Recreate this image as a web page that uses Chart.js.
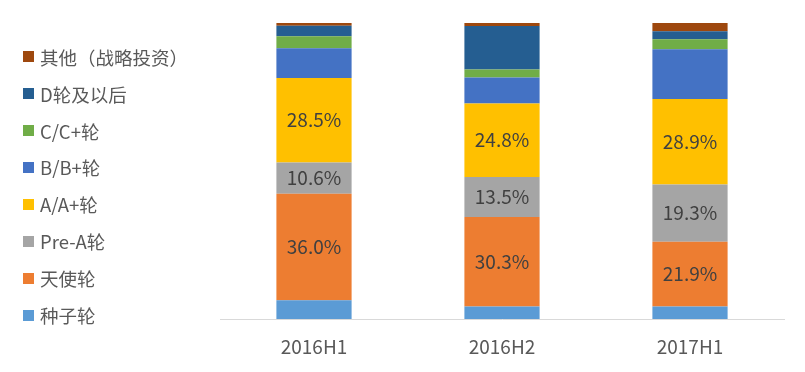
<!DOCTYPE html>
<html>
<head>
<meta charset="utf-8">
<script src="https://cdn.jsdelivr.net/npm/chart.js@4"></script>
<style>
  html,body{margin:0;padding:0;background:#fff;}
  #wrap{position:relative;width:805px;height:372px;}
  #legend{position:absolute;left:0;top:0;}
  .item{position:absolute;left:23px;height:22px;display:flex;align-items:center;white-space:nowrap;
        font-family:"Noto Sans CJK SC","Noto Sans",sans-serif;font-size:18.5px;color:#595959;}
  .box{width:11px;height:11px;margin-right:6px;}
</style>
</head>
<body>
<div id="wrap">
  <canvas id="c" width="805" height="372"></canvas>
  <div id="legend"></div>
</div>
<script>
const periods = ["2016H1","2016H2","2017H1"];

const seed     = [6.3, 4.2, 4.2];
const angel    = [36.0, 30.3, 21.9];
const preA     = [10.6, 13.5, 19.3];
const roundA   = [28.5, 24.8, 28.9];
const roundB   = [10.1, 8.8, 16.8];
const roundC   = [4.0, 2.7, 3.4];
const roundD   = [3.6, 14.7, 2.7];
const others   = [0.9, 1.0, 2.8];

const names  = ["种子轮","天使轮","Pre-A轮","A/A+轮","B/B+轮","C/C+轮","D轮及以后","其他（战略投资）"];
const colors = ["#5b9bd5","#ed7d31","#a5a5a5","#ffc000","#4472c4","#70ad47","#255e91","#9e480e"];
const values = [seed, angel, preA, roundA, roundB, roundC, roundD, others];
const labelled = [1, 2, 3]; // series that show their value

const datasets = values.map((v,i)=>({
    label: names[i],
    data: v,
    backgroundColor: colors[i],
    borderWidth: 0,
    barPercentage: 0.4,
    categoryPercentage: 1
}));

// value labels inside bars
const valueLabels = {
    id: "valueLabels",
    afterDatasetsDraw(chart){
        const ctx = chart.ctx;
        ctx.save();
        ctx.font = '19px "Noto Sans CJK SC", "Noto Sans", sans-serif';
        ctx.fillStyle = "#404040";
        ctx.textAlign = "center";
        ctx.textBaseline = "middle";
        labelled.forEach(di=>{
            chart.getDatasetMeta(di).data.forEach((bar,j)=>{
                const p = bar.getProps(["x","y","base"], true);
                ctx.fillText(values[di][j].toFixed(1)+"%", p.x, (p.y+p.base)/2);
            });
        });
        ctx.restore();
    }
};

new Chart(document.getElementById("c"), {
    type: "bar",
    data: {labels: periods, datasets: datasets},
    options: {
        responsive: false,
        animation: false,
        layout: {padding: {left: 220, right: 21, top: 23, bottom: 13}},
        plugins: {legend: {display: false}, tooltip: {enabled: false}},
        scales: {
            x: {
                stacked: true,
                afterFit(scale){ scale.height = 40; },
                grid: {display: false, drawTicks: false},
                border: {display: true, color: "#d9d9d9", width: 1},
                ticks: {
                    padding: 16,
                    color: "#595959",
                    font: {family: '"Noto Sans CJK SC", "Noto Sans", sans-serif', size: 19}
                }
            },
            y: {stacked: true, min: 0, max: 100, display: false}
        }
    },
    plugins: [valueLabels]
});

// legend, top item = last series
const legend = document.getElementById("legend");
names.slice().reverse().forEach((n,k)=>{
    const i = names.length-1-k;
    const row = document.createElement("div");
    row.className = "item";
    row.style.top = (45.7 + k*36.9) + "px";
    row.innerHTML = '<span class="box" style="background:'+colors[i]+'"></span><span>'+n+'</span>';
    legend.appendChild(row);
});
</script>
</body>
</html>
